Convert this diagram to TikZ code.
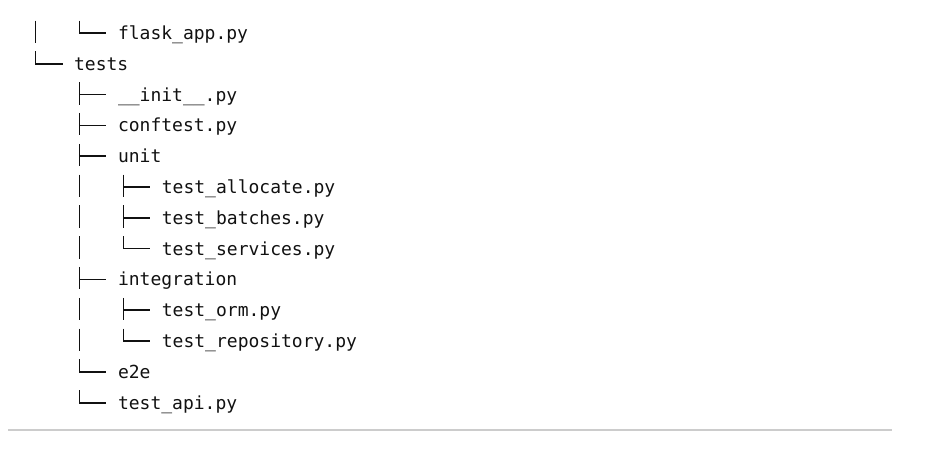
\documentclass[tikz,border=0pt]{standalone}
\usepackage{fontspec}
\setmonofont{DejaVu Sans Mono}
\usetikzlibrary{calc}
\definecolor{TreeInk}{HTML}{111111}
\definecolor{RuleGray}{HTML}{CCCCCC}
\tikzset{
    entry/.style = {anchor=base west, inner sep=0pt,
        font=\ttfamily\fontsize{18}{18}\selectfont, text=TreeInk},
    branch/.style = {draw=TreeInk, line width=1.6pt},
    hrule/.style = {draw=RuleGray, line width=1.3pt}
}

\begin{document}
\begin{tikzpicture}[x=1pt, y=-1pt]
  \useasboundingbox (0,0) rectangle (948,462);
  % entries: name/level/text
  \foreach \nm/\lvl/\txt [count=\i from 0] in {
      flask/2/flask\_app.py, tests/1/tests, init/2/\_\_init\_\_.py,
      conftest/2/conftest.py, unit/2/unit, alloc/3/test\_allocate.py,
      batches/3/test\_batches.py, services/3/test\_services.py,
      integ/2/integration, orm/3/test\_orm.py, repo/3/test\_repository.py,
      e2e/2/e2e, api/2/test\_api.py}{
    \node[entry] (\nm) at ({30+43.9*\lvl},{39.6+30.8*\i}) {\txt};
  };
  % tree glyphs
  \foreach \nm in {init,conftest,unit,alloc,batches,integ,orm}{
    \draw[branch] ($(\nm.base west)+(-38.4,-19)$) -- +(0,22.5);
    \draw[branch] ($(\nm.base west)+(-38.4,-6.5)$) -- +(27,0);
  };
  \foreach \nm in {flask,tests,services,repo,e2e,api}{
    \draw[branch] ($(\nm.base west)+(-38.4,-19)$) |- ($(\nm.base west)+(-11.4,-6.5)$);
  };
  \foreach \nm in {flask,alloc,batches,services,orm,repo}{
    \draw[branch] ($(\nm.base west)+(-82.3,-19)$) -- +(0,22.5);
  };
  \coordinate (ruleL) at (8,430);
  \coordinate (ruleR) at (892,430);
  \draw[hrule] (ruleL) -- (ruleR);
\end{tikzpicture}
\end{document}
